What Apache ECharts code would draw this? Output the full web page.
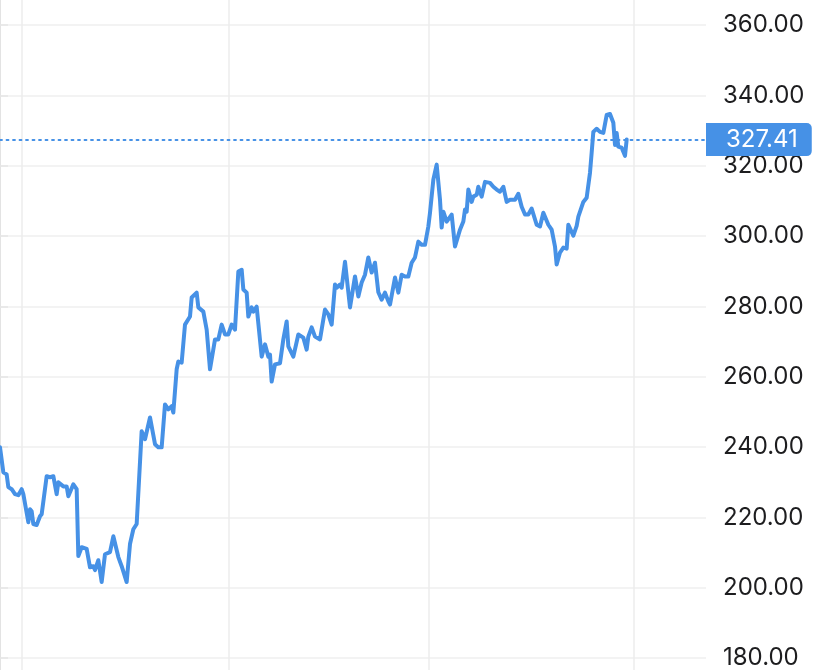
<!DOCTYPE html>
<html>
<head>
<meta charset="utf-8">
<script src="https://cdn.jsdelivr.net/npm/echarts@6/dist/echarts.min.js"></script>
<style>
html,body{margin:0;padding:0;background:#fff;}
#chart{width:829px;height:670px;}
</style>
</head>
<body>
<div id="chart"></div>
<script>
// Day offsets (calendar days from start of visible window)
const days = [0,2,4,5,7,9,11,13,14,17,18,19,20,22,24,25,28,30,32,34,35,38,40,41,44,46,47,49,52,54,56,57,59,61,63,66,68,71,73,74,76,78,80,82,85,87,90,93,95,97,99,101,103,104,106,107,109,111,114,115,118,119,122,123,124,126,127,129,131,132,133,135,137,139,141,143,145,146,148,149,151,152,154,157,159,161,162,163,165,168,170,172,173,176,179,182,184,185,187,189,192,195,197,199,201,202,204,205,207,208,210,213,215,217,219,221,223,225,227,229,231,233,234,237,239,241,243,245,247,249,251,253,255,257,258,260,262,264,265,266,268,271,273,274,276,278,279,280,281,283,284,286,287,289,291,294,296,298,299,300,302,304,306,309,311,313,315,317,319,322,324,326,329,331,333,334,336,338,340,341,344,346,347,350,352,354,355,356,358,360,362,364,366,368,369,370,371,373,375,376];
// Closing prices
const prices = [239.9,232.8,232.2,228.6,228.0,226.6,226.3,228.0,226.6,218.6,222.3,221.7,218.1,217.8,220.3,220.9,231.7,231.4,231.7,226.6,230.0,228.8,228.8,226.0,229.4,228.0,209.0,211.5,211.0,205.8,206.1,205.0,207.8,201.6,209.5,210.1,214.6,208.7,206.1,205.8,201.6,212.4,216.6,218.1,244.5,242.2,248.4,240.8,239.9,239.9,252.1,250.7,251.6,249.8,262.1,264.3,264.0,274.8,277.1,282.5,283.9,279.7,278.5,278.2,273.4,262.1,262.1,270.6,270.6,271.1,274.8,272.0,272.0,274.8,273.4,289.9,290.4,284.8,283.9,277.1,279.7,278.5,279.9,265.7,269.2,265.7,266.3,258.6,263.5,263.8,270.6,275.7,268.6,265.7,272.0,271.1,267.7,271.4,274.0,271.4,270.6,279.1,277.7,274.8,286.2,285.3,286.2,285.3,292.7,292.4,279.7,288.5,282.8,286.8,289.0,293.9,289.6,292.4,284.0,281.9,283.9,281.4,280.5,288.2,283.9,289.0,288.5,288.5,292.4,293.9,298.4,297.5,297.5,302.7,306.6,316.0,320.3,310.3,302.4,306.9,304.1,306.1,297.0,297.0,301.8,304.1,307.5,306.9,313.2,309.7,311.2,311.7,314.0,311.2,315.4,315.1,314.0,313.2,313.7,312.6,314.0,309.7,310.3,310.3,312.0,308.3,306.1,306.1,307.8,303.2,302.7,306.6,303.2,301.8,297.0,291.9,295.3,296.7,296.4,303.2,300.1,302.9,305.5,309.7,310.9,318.0,323.7,329.6,330.5,329.6,329.3,334.4,334.7,332.2,325.9,329.3,325.4,325.1,322.8,327.41];
const lastPrice = 327.41;
const gridDays = [13, 137, 257, 380];
const yTicks = [180, 200, 220, 240, 260, 280, 300, 320, 340, 360];

const BLUE = '#4691E6';
const FONT = 'Inter, "Noto Sans", sans-serif';
const chart = echarts.init(document.getElementById('chart'), null, {renderer: 'canvas'});
const xMax = 423.6;

chart.setOption({
  animation: false,
  grid: [
    {left: 0, right: 123, top: 25, bottom: 11},
    {left: 0, right: 123, top: 0, bottom: 0}
  ],
  xAxis: [
    {type: 'value', gridIndex: 0, min: 0, max: xMax, show: false},
    {type: 'value', gridIndex: 1, min: 0, max: xMax, show: false}
  ],
  yAxis: [
    {
      type: 'value', gridIndex: 0, position: 'right',
      min: yTicks[0], max: yTicks[yTicks.length - 1], interval: 20,
      axisLine: {show: false},
      axisTick: {show: true, length: 8, lineStyle: {color: '#e6e6e6', width: 1.5}},
      splitLine: {show: true, lineStyle: {color: '#efefef', width: 1.5}},
      axisLabel: {
        margin: 17, fontSize: 24, color: '#1d1d1f', fontFamily: FONT,
        formatter: v => v.toFixed(2)
      }
    },
    {
      type: 'value', gridIndex: 1, position: 'right', min: 0, max: 1,
      axisLine: {show: true, lineStyle: {color: '#dadada', width: 1.5}},
      axisTick: {show: false}, axisLabel: {show: false}, splitLine: {show: false}
    }
  ],
  series: [
    {
      type: 'line', xAxisIndex: 1, yAxisIndex: 1, data: [], silent: true,
      markLine: {
        symbol: 'none', silent: true, label: {show: false},
        lineStyle: {color: '#ececec', type: 'solid', width: 1.5},
        data: gridDays.map(d => ({xAxis: d}))
      }
    },
    {
      type: 'line', xAxisIndex: 0, yAxisIndex: 0,
      data: days.map((d, i) => [d, prices[i]]),
      showSymbol: false, smooth: false,
      lineStyle: {color: BLUE, width: 4, join: 'round', cap: 'round'},
      z: 5,
      markLine: {
        symbol: 'none', silent: true,
        lineStyle: {color: BLUE, type: [2, 4.5], width: 1.8, cap: 'round'},
        label: {
          show: true, position: 'end', distance: 0,
          formatter: () => lastPrice.toFixed(2),
          color: '#fff', fontSize: 24, fontFamily: FONT,
          backgroundColor: BLUE, borderRadius: [0, 5, 5, 0],
          padding: [5, 14, 4, 20]
        },
        data: [{yAxis: lastPrice}]
      }
    }
  ]
});
</script>
</body>
</html>
